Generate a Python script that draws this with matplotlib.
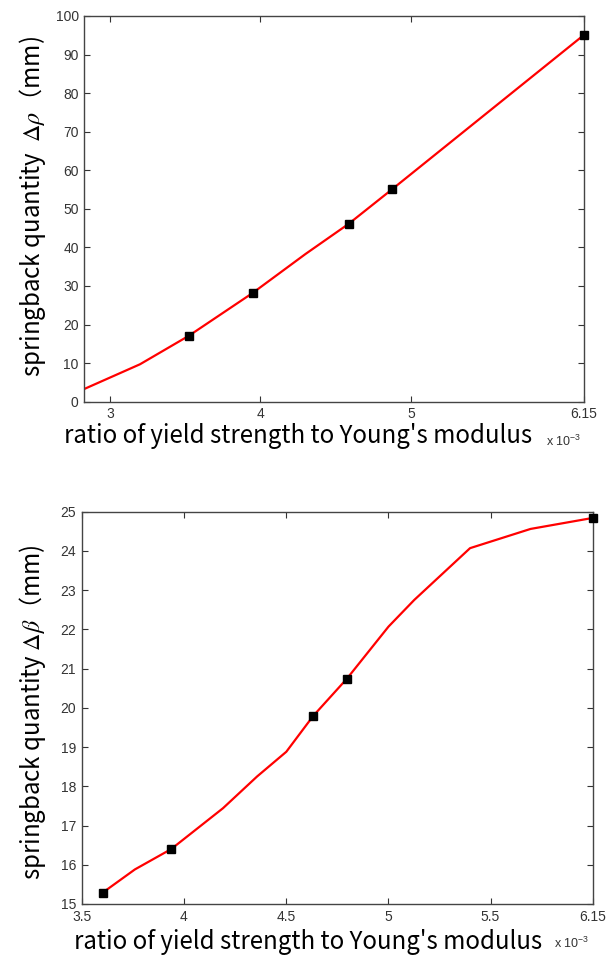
import matplotlib
matplotlib.use('Agg')
import matplotlib.pyplot as plt

plt.rcParams['mathtext.fontset'] = 'stix'

# upper chart: springback quantity delta rho
rho_curve_x = [2.83, 3.20, 3.525, 3.949, 4.30, 4.586, 4.876, 6.15]
rho_curve_y = [3.3, 9.7, 17.1, 28.2, 38.3, 46.1, 55.1, 95.1]
rho_mark_x = [3.525, 3.949, 4.586, 4.876, 6.15]
rho_mark_y = [17.1, 28.2, 46.1, 55.1, 95.1]
rho_xticks = [3, 4, 5, 6.15]
rho_xticklabels = ['3', '4', '5', '6.15']
rho_yticks = list(range(0, 101, 10))

# lower chart: springback quantity delta beta
beta_curve_x = [3.603, 3.76, 3.938, 4.191, 4.358, 4.501, 4.632, 4.797,
                5.001, 5.127, 5.400, 5.696, 6.0]
beta_curve_y = [15.29, 15.88, 16.40, 17.44, 18.25, 18.88, 19.79, 20.74,
                22.07, 22.75, 24.07, 24.56, 24.84]
beta_mark_x = [3.603, 3.938, 4.632, 4.797, 6.0]
beta_mark_y = [15.29, 16.40, 19.79, 20.74, 24.84]
beta_xticks = [3.5, 4, 4.5, 5, 5.5, 6.0]
beta_xticklabels = ['3.5', '4', '4.5', '5', '5.5', '6.15']
beta_yticks = list(range(15, 26))

label_font = ['Noto Sans CJK SC', 'DejaVu Sans']
tick_font = 'Liberation Sans'
xlabel_txt = "ratio of yield strength to Young's modulus"

fig = plt.figure(figsize=(6.14, 9.58), dpi=100)
ax1 = fig.add_axes([0.1373, 0.5807, 0.8138, 0.4026])
ax2 = fig.add_axes([0.1331, 0.0564, 0.8322, 0.4095])


def style(ax, xticks, xlabels, yticks):
    ax.set_xticks(xticks)
    ax.set_xticklabels(xlabels)
    ax.set_yticks(yticks)
    ax.tick_params(direction='in', length=4, width=0.8, top=True, right=True,
                   labelsize=10, colors='#333333', pad=4)
    for lab in ax.get_xticklabels() + ax.get_yticklabels():
        lab.set_family(tick_font)
    for sp in ax.spines.values():
        sp.set_color('#444444')
        sp.set_linewidth(1.0)


# upper
ax1.plot(rho_curve_x, rho_curve_y, color='red', lw=1.6, zorder=2)
ax1.plot(rho_mark_x, rho_mark_y, 's', color='black', ms=5.5, zorder=3, clip_on=False)
ax1.set_xlim(2.83, 6.15)
ax1.set_ylim(0, 100)
style(ax1, rho_xticks, rho_xticklabels, rho_yticks)
ax1.text(0.428, -0.088, xlabel_txt, transform=ax1.transAxes, ha='center',
         va='center', fontsize=17.3, family=label_font, color='black')
ax1.text(0.923, -0.102, r'x 10$^{\mathregular{-3}}$', transform=ax1.transAxes,
         ha='left', va='center', fontsize=9, family=tick_font, color='#333333')
ax1.text(-0.103, 0.505, 'springback quantity  ' + r'$\Delta\rho$' + '（mm)',
         transform=ax1.transAxes, rotation=90, ha='center', va='center',
         fontsize=17.3, family=label_font, color='black')

# lower
ax2.plot(beta_curve_x, beta_curve_y, color='red', lw=1.6, zorder=2)
ax2.plot(beta_mark_x, beta_mark_y, 's', color='black', ms=5.5, zorder=3, clip_on=False)
ax2.set_xlim(3.5, 6.0)
ax2.set_ylim(15, 25)
style(ax2, beta_xticks, beta_xticklabels, beta_yticks)
ax2.text(0.442, -0.097, xlabel_txt, transform=ax2.transAxes, ha='center',
         va='center', fontsize=17.3, family=label_font, color='black')
ax2.text(0.924, -0.0995, r'x 10$^{\mathregular{-3}}$', transform=ax2.transAxes,
         ha='left', va='center', fontsize=9, family=tick_font, color='#333333')
ax2.text(-0.097, 0.49, 'springback quantity ' + r'$\Delta\beta$' + '（mm)',
         transform=ax2.transAxes, rotation=90, ha='center', va='center',
         fontsize=17.3, family=label_font, color='black')

fig.savefig('out.png', dpi=100)
